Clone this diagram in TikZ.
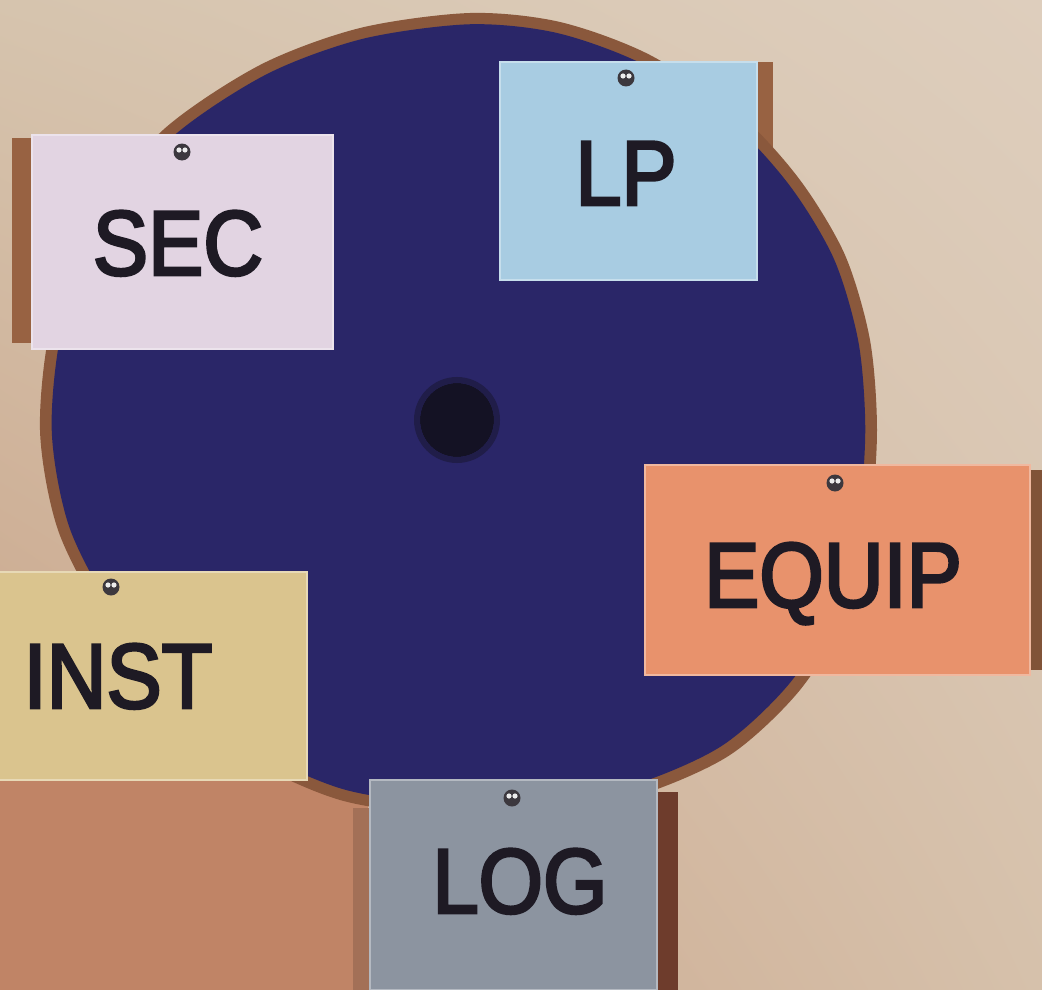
\documentclass[tikz,border=0pt]{standalone}
\usepackage{fontspec}
\setmainfont{Liberation Sans}
\newfontfamily\tagfont{Liberation Sans}[FakeBold=3,FakeStretch=0.9]
\usetikzlibrary{shadings}
\definecolor{boardUL}{RGB}{214,196,174}
\definecolor{boardUR}{RGB}{222,206,189}
\definecolor{boardLR}{RGB}{214,193,171}
\definecolor{boardLL}{RGB}{200,160,132}
\definecolor{warm}{RGB}{192,132,102}
\definecolor{rim}{RGB}{138,88,60}
\definecolor{disc}{RGB}{42,38,104}
\definecolor{hole}{RGB}{20,18,36}
\definecolor{ink}{RGB}{30,26,36}
\definecolor{pinhead}{RGB}{60,56,62}
\definecolor{secpink}{RGB}{226,212,226}
\definecolor{lpblue}{RGB}{168,204,226}
\definecolor{equipred}{RGB}{232,146,108}
\definecolor{instyellow}{RGB}{218,196,142}
\definecolor{loggrey}{RGB}{140,148,160}
\definecolor{stripA}{RGB}{152,98,66}
\definecolor{stripB}{RGB}{110,60,44}

\def\discpath{plot[smooth cycle] coordinates {(470,13) (560,22) (650,55) (740,115) (800,180) (845,255) (870,340) (877,430) (870,520) (848,610) (800,690) (730,755) (640,795) (540,815) (440,815) (340,800) (250,760) (170,700) (105,620) (58,530) (40,430) (52,320) (95,215) (163,130) (260,65) (360,28)}}

\begin{document}
\begin{tikzpicture}[x=1pt,y=-1pt,
  card/.style={draw=#1!65!white,line width=1.2pt,fill=#1},
  tag/.style={anchor=base,text=ink,inner sep=0pt,font=\tagfont\fontsize{92}{92}\selectfont},
  pin/.style={circle,fill=pinhead,inner sep=0pt,minimum size=17pt,
    path picture={\fill[white!85!gray] (path picture bounding box.center) ++(-3,-2) circle (2.6) ++(6,0) circle (2.6);}}]

\useasboundingbox (0,0) rectangle (1042,990);
\shade[upper left=boardUL,upper right=boardUR,lower right=boardLR,lower left=boardLL] (0,0) rectangle (1042,990);
\fill[warm] (0,780) rectangle (368,990);

\fill[stripA] (12,138) rectangle (34,343);
\fill[stripA] (748,62) rectangle (773,250);

\fill[rim] \discpath;
\fill[disc,scale around={0.972:(458,415)}] \discpath;
\fill[hole] (457,420) circle (37);
\draw[disc!55!hole,line width=6pt] (457,420) circle (40);

\fill[stripA!85!black] (1028,470) rectangle (1042,670);
\fill[stripB] (655,792) rectangle (678,990);
\fill[warm!85!black] (353,808) rectangle (372,990);

\filldraw[card=secpink] (32,135) rectangle (333,349);
\filldraw[card=lpblue] (500,62) rectangle (757,280);
\filldraw[card=equipred] (645,465) rectangle (1030,675);
\filldraw[card=instyellow] (-5,572) rectangle (307,780);
\filldraw[card=loggrey] (370,780) rectangle (657,990);

\node[pin] (secpin) at (182,152) {};
\node[pin] (lppin) at (626,78) {};
\node[pin] (equippin) at (835,483) {};
\node[pin] (instpin) at (111,587) {};
\node[pin] (logpin) at (512,798) {};

\node[tag] (sec) at (178,275) {SEC};
\node[tag] (lp) at (626,205) {LP};
\node[tag] (equip) at (833,607) {EQUIP};
\node[tag] (inst) at (118,708) {INST};
\node[tag] (log) at (520,913) {LOG};
\end{tikzpicture}
\end{document}
